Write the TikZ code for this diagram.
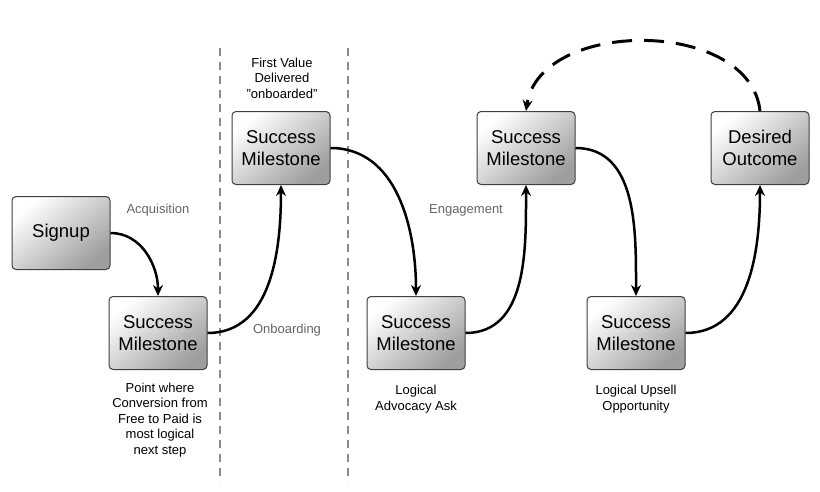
\documentclass[tikz,border=0pt]{standalone}
\usepackage{fontspec}
\setmainfont{Liberation Sans}
\usetikzlibrary{arrows.meta}
\begin{document}
\begin{tikzpicture}[x=1pt,y=-1pt,
  box/.style={draw=black!75,line width=1pt,rounded corners=4pt,minimum width=98pt,minimum height=73pt,
    align=center,font=\fontsize{18.5}{22}\selectfont,top color=white,bottom color=black!38,shading angle=40},
  conn/.style={line width=2.5pt,-{Stealth[length=11pt,width=10pt]}},
  lab/.style={font=\fontsize{13}{15}\selectfont,text=black!60},
  note/.style={font=\fontsize{13}{15.5}\selectfont,align=center}]
\useasboundingbox (0,0) rectangle (820,491);
\fill[white] (0,0) rectangle (820,491);
\draw[black!45,line width=1.5pt,dash pattern=on 8pt off 6pt] (220,48) coordinate (d1a) -- (220,482) coordinate (d1b);
\draw[black!45,line width=1.5pt,dash pattern=on 8pt off 6pt] (348,48) coordinate (d2a) -- (348,482) coordinate (d2b);
\node[box] (s) at (61,233) {Signup};
\node[box] (m1) at (158,333) {Success\\Milestone};
\node[box] (m2) at (281,148) {Success\\Milestone};
\node[box] (m3) at (416,333) {Success\\Milestone};
\node[box] (m4) at (526,148) {Success\\Milestone};
\node[box] (m5) at (636,333) {Success\\Milestone};
\node[box] (d) at (760,148) {Desired\\Outcome};
\draw[conn] (s.east) to[out=0,in=90] (m1.north);
\draw[conn] (m1.east) to[out=0,in=-90] (m2.south);
\draw[conn] (m2.east) to[out=0,in=90] (m3.north);
\draw[conn] (m3.east) to[out=0,in=-90] (m4.south);
\draw[conn] (m4.east) to[out=0,in=90] (m5.north);
\draw[conn] (m5.east) to[out=0,in=-90] (d.south);
\draw[line width=3pt,dash pattern=on 20pt off 12pt,-{Stealth[length=11pt,width=10pt]}]
  (d.north) .. controls (750,18) and (540,18) .. (m4.north);
\node[lab] (l1) at (158,210) {Acquisition};
\node[lab] (l2) at (287,330) {Onboarding};
\node[lab] (l3) at (466,210) {Engagement};
\node[note] (n0) at (282,78) {First Value\\Delivered\\\char34 onboarded\char34};
\node[note] (n1) at (160,420) {Point where\\Conversion from\\Free to Paid is\\most logical\\next step};
\node[note] (n2) at (416,399) {Logical\\Advocacy Ask};
\node[note] (n3) at (636,399) {Logical Upsell\\Opportunity};
\end{tikzpicture}
\end{document}
